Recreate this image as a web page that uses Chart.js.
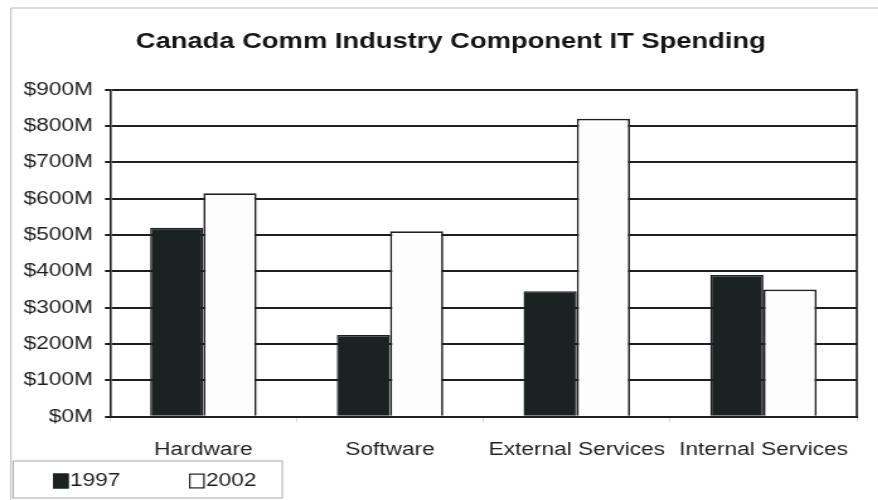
<!DOCTYPE html>
<html>
<head>
<meta charset="utf-8">
<script src="https://cdn.jsdelivr.net/npm/chart.js@4/dist/chart.umd.min.js"></script>
<style>
  html, body { margin: 0; padding: 0; background: #fff; overflow: hidden; }
  /* the chart is drawn narrow and widened, giving the broad lettering of the printed figure */
  #wrap { width: 697px; height: 500px; transform: scaleX(1.26); transform-origin: 0 0; }
  canvas { display: block; }
</style>
</head>
<body>
<div id="wrap"><canvas id="c" width="697" height="500"></canvas></div>
<script>
const categories = ['Hardware', 'Software', 'External Services', 'Internal Services'];
const seriesNames = ['1997', '2002'];
const spending1997 = [520, 225, 345, 390];
const spending2002 = [615, 510, 820, 350];
const yMin = 0;
const yMax = 900;
const yStep = 100;
const formatMoney = v => '$' + v + 'M';

const FONT = 'Liberation Sans, Arial, Helvetica, sans-serif';
const INK = '#1f1f1f';
const DARK = '#1b2221';

// The title sits a little right of the canvas centre
const titleShift = {
  id: 'titleShift',
  afterLayout(chart) {
    const t = chart.titleBlock;
    if (t) { t.left += 13.5; t.right += 13.5; }
  }
};

// Box round the plot, light outer frame, and the boxed legend below the axis
const framePlugin = {
  id: 'frame',
  afterDraw(chart) {
    const ctx = chart.ctx;
    const a = chart.chartArea;
    ctx.save();
    // right edge of the plot box
    ctx.strokeStyle = INK;
    ctx.lineWidth = 1.6;
    ctx.beginPath();
    ctx.moveTo(a.right, a.top - 1);
    ctx.lineTo(a.right, a.bottom + 1);
    ctx.stroke();

    // faint outer frame
    ctx.strokeStyle = '#b8b8b8';
    ctx.lineWidth = 1;
    ctx.beginPath();
    ctx.moveTo(8.7, 500);
    ctx.lineTo(8.7, 8);
    ctx.lineTo(697, 8);
    ctx.stroke();

    // legend
    const box = { left: 10.5, top: 461, right: 224, bottom: 498 };
    ctx.strokeStyle = '#a8a8a8';
    ctx.lineWidth = 1;
    ctx.strokeRect(box.left, box.top, box.right - box.left, box.bottom - box.top);
    const midY = (box.top + box.bottom) / 2 + 1.5;
    const firstX = box.left + 31.5;
    const stride = 108;
    ctx.font = '18px ' + FONT;
    ctx.textBaseline = 'middle';
    ctx.textAlign = 'left';
    chart.data.datasets.forEach((ds, i) => {
      const x = firstX + i * stride;
      ctx.fillStyle = ds.backgroundColor;
      ctx.fillRect(x, midY - 7.5, 12.5, 15);
      ctx.strokeStyle = ds.borderColor;
      ctx.lineWidth = 1.2;
      ctx.strokeRect(x + 0.6, midY - 6.9, 11.3, 13.8);
      ctx.fillStyle = INK;
      ctx.fillText(ds.label, x + 13.5, midY + 0.5);
    });
    ctx.restore();
  }
};

new Chart(document.getElementById('c'), {
  type: 'bar',
  data: {
    labels: categories,
    datasets: [
      { label: seriesNames[0], data: spending1997, backgroundColor: DARK, borderColor: DARK, borderWidth: 1.5 },
      { label: seriesNames[1], data: spending2002, backgroundColor: '#fdfdfd', borderColor: INK, borderWidth: 1.7 }
    ]
  },
  options: {
    responsive: false,
    animation: false,
    devicePixelRatio: 1,
    layout: { padding: { left: 8.7, right: 17, top: 0, bottom: 39.3 } },
    datasets: { bar: { categoryPercentage: 0.57, barPercentage: 1 } },
    plugins: {
      legend: { display: false },
      tooltip: { enabled: false },
      title: {
        display: true,
        text: 'Canada Comm Industry Component IT Spending',
        color: '#151515',
        font: { family: FONT, size: 21.7, weight: 'bold' },
        padding: { top: 29, bottom: 34.6 }
      }
    },
    scales: {
      x: {
        grid: { display: true, drawOnChartArea: false, offset: true, tickLength: 5, color: '#d4d4d4' },
        border: { color: INK, width: 2 },
        ticks: { padding: 17.5, color: INK, font: { family: FONT, size: 18 } },
        afterFit(s) { s.height = 44; }
      },
      y: {
        min: yMin,
        max: yMax,
        ticks: { stepSize: yStep, padding: 9.5, color: INK, font: { family: FONT, size: 18 }, callback: formatMoney },
        grid: { color: INK, lineWidth: 2, tickLength: 4 },
        border: { color: INK, width: 1.6 },
        afterFit(s) { s.width = 78.6; }
      }
    }
  },
  plugins: [titleShift, framePlugin]
});
</script>
</body>
</html>
